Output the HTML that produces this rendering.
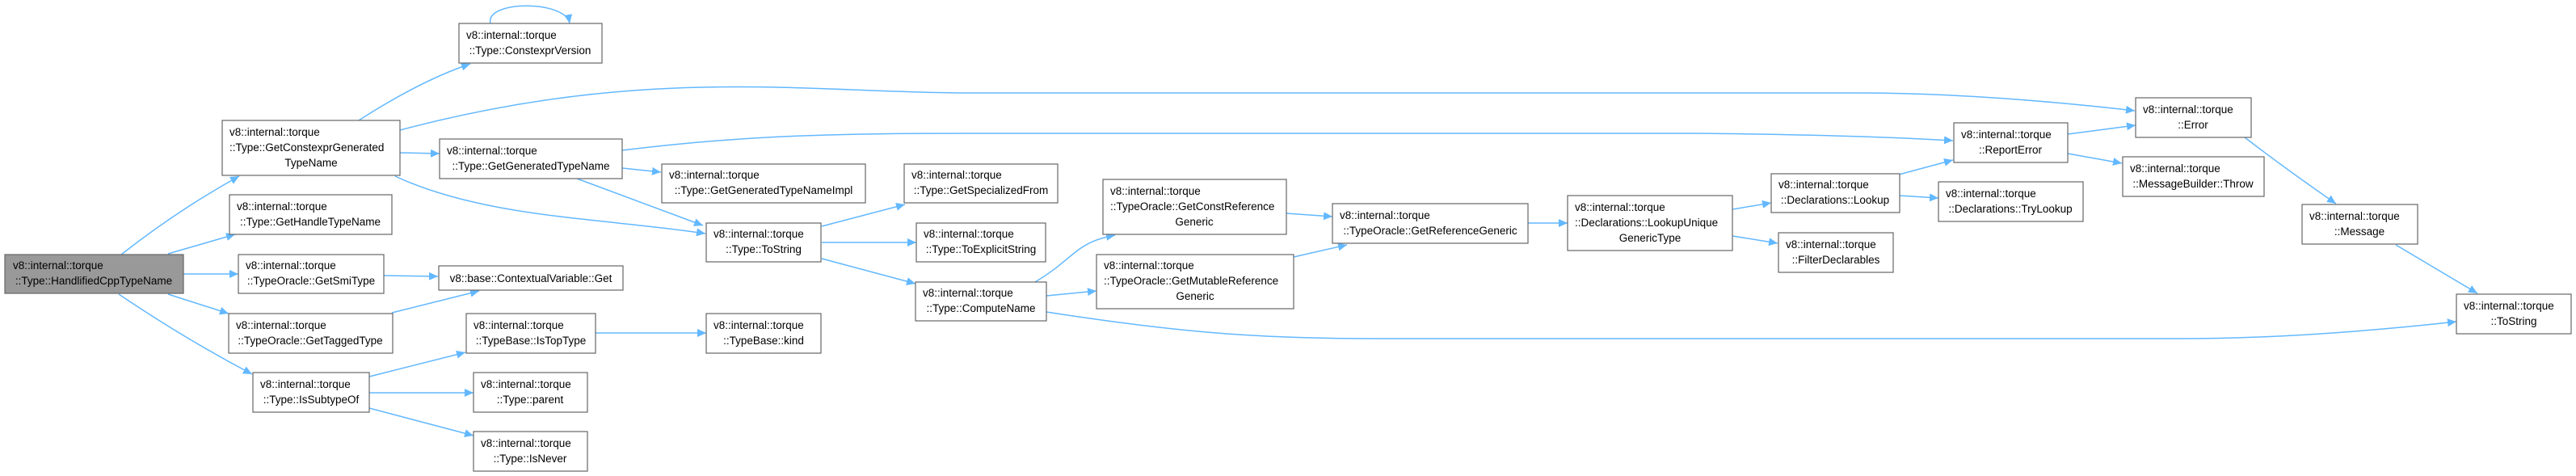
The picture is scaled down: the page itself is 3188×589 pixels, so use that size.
<!DOCTYPE html>
<html><head><meta charset="utf-8"><style>
html,body{margin:0;padding:0;background:#fff;}
svg{display:block;}
text{font-family:"Liberation Sans",sans-serif;font-size:13.5px;fill:#000;}
.b{fill:#fff;stroke:#666;stroke-width:1.2;}
.e{fill:none;stroke:#63b8ff;stroke-width:1.5;marker-end:url(#a);}
</style></head><body>
<svg width="3188" height="589" viewBox="0 0 3188 589" xmlns="http://www.w3.org/2000/svg">
<defs><marker id="a" markerUnits="userSpaceOnUse" markerWidth="12" markerHeight="10" refX="11" refY="5" orient="auto"><path d="M0,0 L11,5 L0,10 z" fill="#63b8ff"/></marker></defs>

<!-- edges -->
<path class="e" d="M150,315 Q220,260 296,218"/>
<path class="e" d="M208,314 L291,290"/>
<path class="e" d="M227,339 L295,339"/>
<path class="e" d="M208,364 L283,388"/>
<path class="e" d="M147,364 Q230,420 312,463"/>
<path class="e" d="M444,149 Q520,100 582,79"/>
<path class="e" d="M607,29 C600,0 700,0 705,29"/>
<path class="e" d="M495,161 C800,80 1000,115 1200,115 L2300,115 Q2450,115 2642,137"/>
<path class="e" d="M495,189 L544,190"/>
<path class="e" d="M489,218 C600,270 750,270 873,289"/>
<path class="e" d="M770,186 C900,170 1000,165 1200,165 L2100,165 Q2300,167 2417,174"/>
<path class="e" d="M770,208 L818,213"/>
<path class="e" d="M714,221 L870,279"/>
<path class="e" d="M475,341 L542,342"/>
<path class="e" d="M485,387 L593,360"/>
<path class="e" d="M457,466 L576,436"/>
<path class="e" d="M457,486 L586,486"/>
<path class="e" d="M457,505 L586,539"/>
<path class="e" d="M737,412 L874,412"/>
<path class="e" d="M1017,280 L1120,253"/>
<path class="e" d="M1017,300 L1134,300"/>
<path class="e" d="M1017,320 L1133,351"/>
<path class="e" d="M1281,349 C1330,320 1330,300 1380,291"/>
<path class="e" d="M1295,366 L1357,360"/>
<path class="e" d="M1295,386 C1450,410 1550,419 1700,419 L2700,419 Q2850,419 3040,398"/>
<path class="e" d="M1592,264 L1649,268"/>
<path class="e" d="M1601,318 L1667,303"/>
<path class="e" d="M1891,276 L1940,276"/>
<path class="e" d="M2144,259 L2192,251"/>
<path class="e" d="M2144,292 L2200,301"/>
<path class="e" d="M2350,216 L2417,198"/>
<path class="e" d="M2350,242 L2399,245"/>
<path class="e" d="M2559,166 L2643,155"/>
<path class="e" d="M2559,190 L2626,202"/>
<path class="e" d="M2778,170 Q2830,210 2891,252"/>
<path class="e" d="M2965,303 L3066,363"/>

<!-- nodes -->
<rect x="6" y="315" width="221" height="48" fill="#999" stroke="#666" stroke-width="1.2"/>
<text x="16" y="333">v8::internal::torque</text><text x="116" y="352" text-anchor="middle">::Type::HandlifiedCppTypeName</text>

<rect class="b" x="275" y="149" width="220" height="68"/>
<text x="284" y="168">v8::internal::torque</text><text x="284" y="187">::Type::GetConstexprGenerated</text><text x="385" y="206" text-anchor="middle">TypeName</text>

<rect class="b" x="568" y="29" width="177" height="49"/>
<text x="577" y="48">v8::internal::torque</text><text x="656" y="67" text-anchor="middle">::Type::ConstexprVersion</text>

<rect class="b" x="284" y="241" width="201" height="49"/>
<text x="293" y="260">v8::internal::torque</text><text x="384" y="279" text-anchor="middle">::Type::GetHandleTypeName</text>

<rect class="b" x="295" y="315" width="180" height="48"/>
<text x="304" y="333">v8::internal::torque</text><text x="385" y="352" text-anchor="middle">::TypeOracle::GetSmiType</text>

<rect class="b" x="283" y="388" width="203" height="49"/>
<text x="292" y="407">v8::internal::torque</text><text x="384" y="426" text-anchor="middle">::TypeOracle::GetTaggedType</text>

<rect class="b" x="313" y="461" width="144" height="49"/>
<text x="322" y="480">v8::internal::torque</text><text x="385" y="499" text-anchor="middle">::Type::IsSubtypeOf</text>

<rect class="b" x="544" y="172" width="226" height="49"/>
<text x="553" y="191">v8::internal::torque</text><text x="657" y="210" text-anchor="middle">::Type::GetGeneratedTypeName</text>

<rect class="b" x="543" y="329" width="228" height="30"/>
<text x="657" y="349" text-anchor="middle">v8::base::ContextualVariable::Get</text>

<rect class="b" x="577" y="388" width="160" height="49"/>
<text x="586" y="407">v8::internal::torque</text><text x="657" y="426" text-anchor="middle">::TypeBase::IsTopType</text>

<rect class="b" x="586" y="461" width="141" height="49"/>
<text x="595" y="480">v8::internal::torque</text><text x="656" y="499" text-anchor="middle">::Type::parent</text>

<rect class="b" x="586" y="534" width="141" height="49"/>
<text x="595" y="553">v8::internal::torque</text><text x="656" y="572" text-anchor="middle">::Type::IsNever</text>

<rect class="b" x="819" y="203" width="252" height="48"/>
<text x="828" y="221">v8::internal::torque</text><text x="945" y="240" text-anchor="middle">::Type::GetGeneratedTypeNameImpl</text>

<rect class="b" x="874" y="276" width="142" height="48"/>
<text x="883" y="294">v8::internal::torque</text><text x="945" y="313" text-anchor="middle">::Type::ToString</text>

<rect class="b" x="874" y="388" width="142" height="49"/>
<text x="883" y="407">v8::internal::torque</text><text x="945" y="426" text-anchor="middle">::TypeBase::kind</text>

<rect class="b" x="1119" y="203" width="190" height="48"/>
<text x="1128" y="221">v8::internal::torque</text><text x="1214" y="240" text-anchor="middle">::Type::GetSpecializedFrom</text>

<rect class="b" x="1134" y="276" width="160" height="48"/>
<text x="1143" y="294">v8::internal::torque</text><text x="1214" y="313" text-anchor="middle">::Type::ToExplicitString</text>

<rect class="b" x="1133" y="349" width="162" height="48"/>
<text x="1142" y="367">v8::internal::torque</text><text x="1214" y="386" text-anchor="middle">::Type::ComputeName</text>

<rect class="b" x="1365" y="222" width="227" height="68"/>
<text x="1374" y="241">v8::internal::torque</text><text x="1374" y="260">::TypeOracle::GetConstReference</text><text x="1478" y="279" text-anchor="middle">Generic</text>

<rect class="b" x="1357" y="315" width="244" height="67"/>
<text x="1366" y="333">v8::internal::torque</text><text x="1366" y="352">::TypeOracle::GetMutableReference</text><text x="1479" y="371" text-anchor="middle">Generic</text>

<rect class="b" x="1649" y="252" width="242" height="49"/>
<text x="1658" y="271">v8::internal::torque</text><text x="1770" y="290" text-anchor="middle">::TypeOracle::GetReferenceGeneric</text>

<rect class="b" x="1940" y="242" width="204" height="68"/>
<text x="1949" y="261">v8::internal::torque</text><text x="1949" y="280">::Declarations::LookupUnique</text><text x="2042" y="299" text-anchor="middle">GenericType</text>

<rect class="b" x="2192" y="215" width="159" height="48"/>
<text x="2201" y="233">v8::internal::torque</text><text x="2271" y="252" text-anchor="middle">::Declarations::Lookup</text>

<rect class="b" x="2201" y="288" width="142" height="49"/>
<text x="2210" y="307">v8::internal::torque</text><text x="2272" y="326" text-anchor="middle">::FilterDeclarables</text>

<rect class="b" x="2418" y="152" width="141" height="49"/>
<text x="2427" y="171">v8::internal::torque</text><text x="2488" y="190" text-anchor="middle">::ReportError</text>

<rect class="b" x="2399" y="225" width="179" height="49"/>
<text x="2408" y="244">v8::internal::torque</text><text x="2488" y="263" text-anchor="middle">::Declarations::TryLookup</text>

<rect class="b" x="2643" y="121" width="143" height="49"/>
<text x="2652" y="140">v8::internal::torque</text><text x="2714" y="159" text-anchor="middle">::Error</text>

<rect class="b" x="2627" y="194" width="175" height="49"/>
<text x="2636" y="213">v8::internal::torque</text><text x="2714" y="232" text-anchor="middle">::MessageBuilder::Throw</text>

<rect class="b" x="2849" y="253" width="143" height="49"/>
<text x="2858" y="272">v8::internal::torque</text><text x="2920" y="291" text-anchor="middle">::Message</text>

<rect class="b" x="3040" y="364" width="142" height="49"/>
<text x="3049" y="383">v8::internal::torque</text><text x="3111" y="402" text-anchor="middle">::ToString</text>
</svg>
</body></html>
